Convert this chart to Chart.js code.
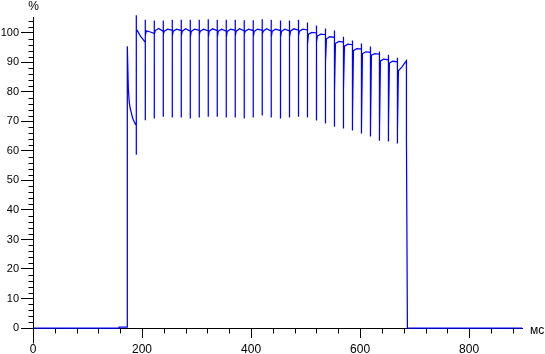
<!DOCTYPE html>
<html>
<head>
<meta charset="utf-8">
<script src="https://cdn.jsdelivr.net/npm/chart.js@4/dist/chart.umd.min.js"></script>
<style>
  html, body { margin: 0; padding: 0; background: #fff; }
  canvas { display: block; }
</style>
</head>
<body>
<canvas id="chart" width="545" height="354"></canvas>
<script>
// Axis ticks (ms / %)
var X_TICKS = [0, 200, 400, 600, 800];
var Y_TICKS = [0, 10, 20, 30, 40, 50, 60, 70, 80, 90, 100];
var X_MAX = 897;
var Y_MAX = 105.4;

// Rise of the signal and the first decay (ms, %)
var START_T = [0, 158, 158, 173, 173, 174.9, 176.7, 178.5, 180.4, 182.2, 184, 185.9, 187.7, 189.5];
var START_V = [0, 0, 0.3, 0.3, 95.5, 80.8, 76.3, 74.3, 72.9, 71.5, 70.6, 69.8, 69.2, 68.7];

// One entry per spike: time, top, bottom, value just after the bottom
var SPIKE_T = [189.5, 206, 222.5, 239, 255.5, 272, 288.5, 305, 321.5, 338,
               354.5, 371, 387.5, 404, 420.5, 437, 454, 470.5, 487, 503.5,
               520, 536.5, 553, 569.5, 586, 602.5, 619, 635.5, 652, 668.5];
var SPIKE_TOP = [106.0, 104.5, 104.2, 104.2, 104.5, 104.5, 104.5, 104.5, 104.6, 104.5,
                 104.5, 104.5, 104.3, 104.3, 104.6, 104.5, 104.2, 104.2, 104.5, 103.5,
                 102.5, 101.5, 100.8, 98.7, 97.4, 96.4, 95.4, 93.7, 92.6, 91.6];
var SPIKE_LOW = [58.7, 70.4, 71.0, 71.6, 71.3, 71.3, 71.0, 71.3, 71.6, 71.6,
                 71.3, 71.3, 71.0, 71.3, 72.0, 71.3, 71.0, 71.3, 71.6, 71.3,
                 70.3, 69.3, 68.2, 67.6, 66.9, 65.9, 64.9, 63.5, 63.2, 62.5];
var RECOVER = [100.5, 99.0, 99.5, 99.5, 99.0, 99.0, 98.5, 99.5, 98.5, 98.5,
               98.5, 99.0, 99.5, 98.5, 99.5, 98.5, 98.5, 98.5, 99.0, 96.0,
               97.0, 90.0, 80.0, 80.5, 71.5, 67.0, 66.3, 65.5, 68.0, 66.5];

// Plateau between spikes: right after, middle, just before the next spike
var LEVEL_A = [100.8, 100.7, 100.8, 100.6, 100.6, 100.6, 100.5, 100.6, 100.6, 100.6,
               100.5, 100.6, 100.6, 100.5, 100.6, 100.6, 100.5, 100.6, 100.6, 99.6,
               99.0, 98.0, 96.4, 95.5, 94.0, 93.0, 92.5, 90.5, 89.8, 87.2];
var LEVEL_M = [98.8, 100.4, 101.5, 101.3, 101.3, 101.4, 101.3, 101.3, 101.4, 101.3,
               101.3, 101.4, 101.3, 101.3, 101.4, 101.3, 101.3, 101.4, 101.3, 100.2,
               99.6, 98.7, 97.1, 96.2, 94.7, 93.6, 93.0, 91.1, 90.4, 88.4];
var LEVEL_B = [96.8, 99.8, 100.5, 100.9, 100.8, 100.6, 100.9, 100.7, 100.8, 100.6,
               100.9, 100.7, 100.8, 100.9, 100.6, 100.8, 100.7, 100.9, 101.0, 100.0,
               99.4, 98.5, 96.9, 96.0, 94.5, 93.4, 92.8, 90.9, 90.2, 90.6];

// Switch-off
var END_T = [685, 686.8, 897];
var END_V = [64.5, 0, 0];

function buildPoints() {
  var pts = [];
  START_T.forEach(function(t, i) { pts.push({ x: t, y: START_V[i] }); });
  SPIKE_T.forEach(function(t, i) {
    var next = i + 1 < SPIKE_T.length ? SPIKE_T[i + 1] : END_T[0];
    pts.push({ x: t, y: SPIKE_TOP[i] });
    pts.push({ x: t, y: SPIKE_LOW[i] });
    pts.push({ x: t, y: RECOVER[i] });
    pts.push({ x: t + 1.8, y: LEVEL_A[i] });
    pts.push({ x: t + 8, y: LEVEL_M[i] });
    pts.push({ x: next, y: LEVEL_B[i] });
  });
  END_T.forEach(function(t, i) { pts.push({ x: t, y: END_V[i] }); });
  return pts;
}

function crisp(v) { return Math.round(v) + 0.5; }

// minor tick marks, the longer y-axis foot and the unit labels
var axisExtras = {
  id: 'axisExtras',
  afterDraw: function(chart) {
    var ctx = chart.ctx, xs = chart.scales.x, ys = chart.scales.y;
    var left = crisp(chart.chartArea.left), bottom = crisp(chart.chartArea.bottom);
    ctx.save();
    ctx.strokeStyle = '#000';
    ctx.lineWidth = 1;
    ctx.beginPath();
    for (var v = 2; v <= Y_MAX; v += 2) {
      if (v % 10 === 0) continue;
      var py = crisp(ys.getPixelForValue(v));
      ctx.moveTo(left - 5, py); ctx.lineTo(left, py);
    }
    for (var t = 40; t <= X_MAX; t += 40) {
      if (t % 200 === 0) continue;
      var px = crisp(xs.getPixelForValue(t));
      ctx.moveTo(px, bottom); ctx.lineTo(px, bottom + 5);
    }
    ctx.moveTo(left, bottom); ctx.lineTo(left, bottom + 15);
    ctx.stroke();

    ctx.fillStyle = '#000';
    ctx.font = '12px "Liberation Sans", Arial, sans-serif';
    ctx.textAlign = 'center';
    ctx.textBaseline = 'alphabetic';
    ctx.fillText('%', left, 10);
    ctx.textAlign = 'left';
    ctx.fillText('мс', 530, 334);
    ctx.restore();
  }
};

new Chart(document.getElementById('chart'), {
  type: 'line',
  data: {
    datasets: [{
      data: buildPoints(),
      borderColor: '#0000ff',
      borderWidth: 1.25,
      pointRadius: 0,
      tension: 0,
      fill: false,
      clip: false
    }]
  },
  options: {
    responsive: false,
    animation: false,
    events: [],
    layout: { padding: { top: 17, right: 23, left: 0, bottom: 0 } },
    plugins: { legend: { display: false }, tooltip: { enabled: false } },
    scales: {
      x: {
        type: 'linear',
        min: 0, max: X_MAX,
        afterBuildTicks: function(s) { s.ticks = X_TICKS.map(function(v) { return { value: v }; }); },
        afterFit: function(s) { s.height = 26; },
        grid: { drawOnChartArea: false, tickLength: 10, color: '#000' },
        border: { color: '#000' },
        ticks: {
          autoSkip: false, maxRotation: 0, padding: 4, color: '#000',
          font: { family: '"Liberation Sans", Arial, sans-serif', size: 12 }
        }
      },
      y: {
        type: 'linear',
        min: 0, max: Y_MAX,
        afterBuildTicks: function(s) { s.ticks = Y_TICKS.map(function(v) { return { value: v }; }); },
        afterFit: function(s) { s.width = 33; },
        grid: { drawOnChartArea: false, tickLength: 12, color: '#000' },
        border: { color: '#000' },
        ticks: {
          autoSkip: false, padding: 2, color: '#000',
          font: { family: '"Liberation Sans", Arial, sans-serif', size: 11 }
        }
      }
    }
  },
  plugins: [axisExtras]
});
</script>
</body>
</html>
